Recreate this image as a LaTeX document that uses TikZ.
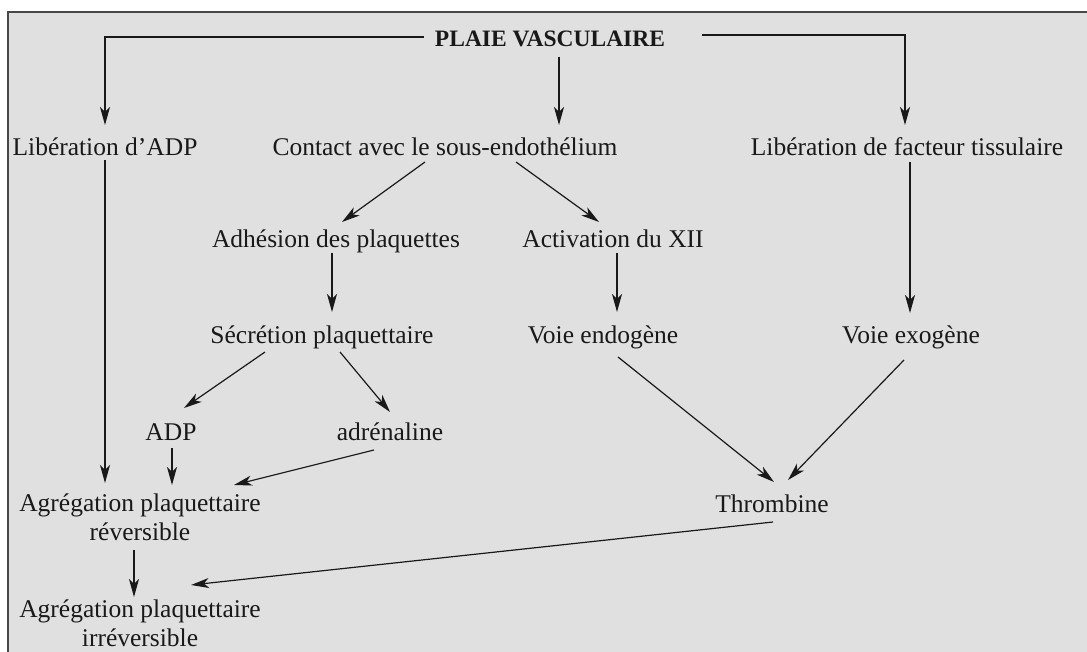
\documentclass[tikz,border=0pt]{standalone}
\usepackage{fontspec}
\setmainfont{Liberation Serif}
\usetikzlibrary{arrows.meta}
\definecolor{paper}{RGB}{224,224,224}
\definecolor{ink}{RGB}{25,25,25}
\tikzset{
  lbl/.style={anchor=base, inner sep=0pt, text=ink, font=\fontsize{25.5}{28.5}\selectfont, align=center},
  ttl/.style={anchor=base, inner sep=0pt, text=ink, font=\fontsize{23.5}{26}\selectfont\bfseries},
  arr/.style={draw=ink, line width=1.2pt, -{Stealth[length=18pt,width=10pt,inset=5pt]}},
}
\begin{document}
\begin{tikzpicture}[x=1pt,y=-1pt]
\useasboundingbox (0,0) rectangle (1087,652);
\fill[white] (0,0) rectangle (1087,652);
\fill[paper] (8,12) rectangle (1087,652);
\draw[ink!80, line width=1.6pt] (8,652) -- (8,12) -- (1087,12);

\node[ttl] (plaie) at (550,47) {PLAIE VASCULAIRE};
\node[lbl] (libadp) at (105,156) {Libération d’ADP};
\node[lbl] (cont) at (445,156) {Contact avec le sous-endothélium};
\node[lbl] (libfac) at (907,156) {Libération de facteur tissulaire};
\node[lbl] (adh) at (336,248) {Adhésion des plaquettes};
\node[lbl] (act) at (613,248) {Activation du XII};
\node[lbl] (secr) at (322,343) {Sécrétion plaquettaire};
\node[lbl] (endo) at (603,343) {Voie endogène};
\node[lbl] (exo) at (911,343) {Voie exogène};
\node[lbl] (adp) at (171,440) {ADP};
\node[lbl] (adre) at (390,440) {adrénaline};
\node[lbl] (agrev) at (140,540) {Agrégation plaquettaire\\réversible};
\node[lbl] (thromb) at (772,512) {Thrombine};
\node[lbl] (agirr) at (140,646) {Agrégation plaquettaire\\irréversible};

\draw[arr] ([xshift=-126pt,yshift=10pt]plaie.base) -| ([yshift=31pt]libadp.base);
\draw[arr] ([xshift=9pt,yshift=-10pt]plaie.base) -- ([xshift=114pt,yshift=31pt]cont.base);
\draw[arr] ([xshift=152pt,yshift=12pt]plaie.base) -| ([xshift=-2pt,yshift=31pt]libfac.base);

\draw[arr] ([yshift=-4pt]libadp.base) -- ([xshift=-35pt,yshift=57pt]agrev.base);
\draw[arr] ([xshift=-20pt,yshift=-6pt]cont.base) -- ([xshift=6pt,yshift=26pt]adh.base);
\draw[arr] ([xshift=71pt,yshift=-6pt]cont.base) -- ([xshift=-14pt,yshift=26pt]act.base);
\draw[arr] ([xshift=-4pt,yshift=-5pt]adh.base) -- ([xshift=10pt,yshift=31pt]secr.base);
\draw[arr] ([xshift=4pt,yshift=-5pt]act.base) -- ([xshift=14pt,yshift=31pt]endo.base);
\draw[arr] ([xshift=3pt,yshift=-6pt]libfac.base) -- ([xshift=-1pt,yshift=30pt]exo.base);
\draw[arr] ([xshift=-57pt,yshift=-9pt]secr.base) -- ([xshift=13pt,yshift=32pt]adp.base);
\draw[arr] ([xshift=18pt,yshift=-9pt]secr.base) -- ([yshift=28pt]adre.base);
\draw[arr] ([xshift=15pt,yshift=-14pt]endo.base) -- ([xshift=2pt,yshift=30pt]thromb.base);
\draw[arr] ([xshift=-7pt,yshift=-17pt]exo.base) -- ([xshift=16pt,yshift=32pt]thromb.base);
\draw[arr] ([xshift=1pt,yshift=-8pt]adp.base) -- ([xshift=32pt,yshift=55pt]agrev.base);
\draw[arr] ([xshift=-16pt,yshift=-10pt]adre.base) -- ([xshift=94pt,yshift=55pt]agrev.base);
\draw[arr] ([xshift=-6pt,yshift=-10pt]agrev.base) -- ([xshift=-6pt,yshift=49pt]agirr.base);
\draw[arr] ([xshift=1pt,yshift=-10pt]thromb.base) -- ([xshift=51pt,yshift=61pt]agirr.base);
\end{tikzpicture}
\end{document}
